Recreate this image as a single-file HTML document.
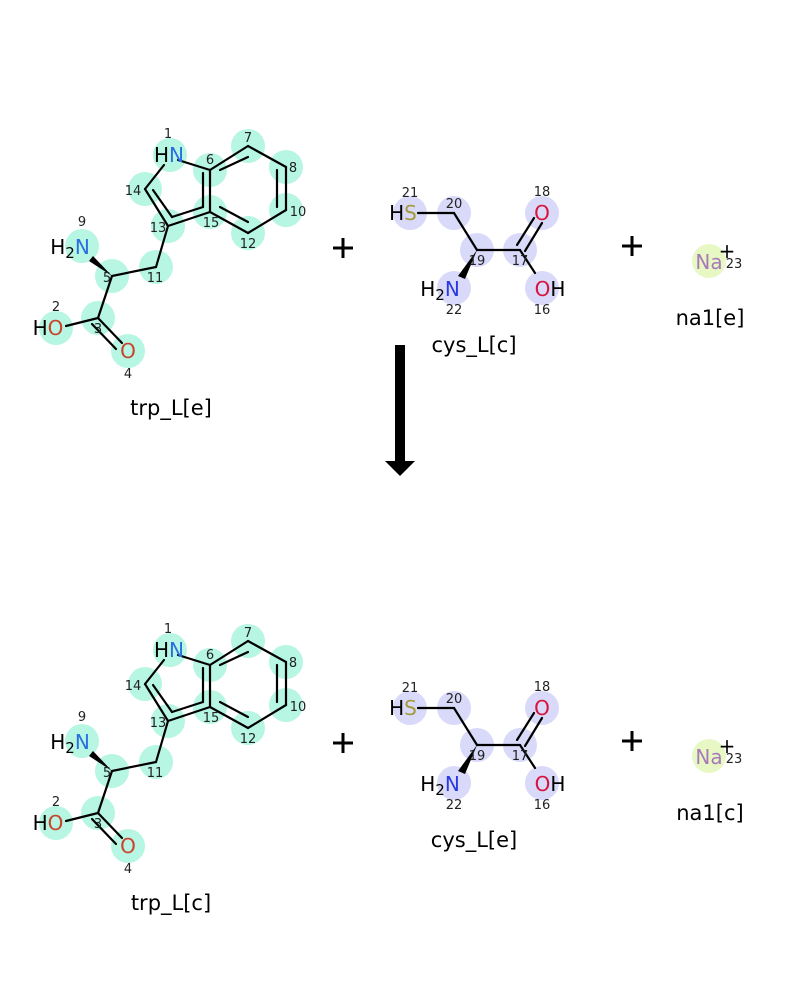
<!DOCTYPE html>
<html><head><meta charset="utf-8"><style>
html,body{margin:0;padding:0;background:#fff;}
svg{display:block;}
text{font-family:"DejaVu Sans","Liberation Sans",sans-serif;}
.a{font-size:20px;text-anchor:middle;}
.i{font-size:13px;fill:#222;text-anchor:middle;}
.l{font-size:21px;fill:#000;text-anchor:middle;}
.b{stroke:#000;stroke-width:2.2;fill:none;stroke-linecap:round;}
</style></head><body>
<svg width="800" height="1000" viewBox="0 0 800 1000" xmlns="http://www.w3.org/2000/svg">
<defs>
<g id="trp">
 <g fill="#b6f6e2">
  <circle cx="170" cy="155" r="17"/><circle cx="210" cy="170" r="17"/><circle cx="248" cy="146" r="17"/>
  <circle cx="286" cy="167" r="17"/><circle cx="286" cy="210" r="17"/><circle cx="248" cy="233" r="17"/>
  <circle cx="210" cy="212" r="17"/><circle cx="168" cy="226" r="17"/><circle cx="145" cy="189" r="17"/>
  <circle cx="156" cy="267" r="17"/><circle cx="112" cy="276" r="17"/><circle cx="82" cy="246" r="17"/>
  <circle cx="98" cy="318" r="17"/><circle cx="56" cy="328" r="17"/><circle cx="128" cy="351" r="17"/>
 </g>
 <g class="b" stroke="#0a2a1e">
  <line x1="178" y1="160" x2="210" y2="170"/>
  <line x1="210" y1="170" x2="248" y2="146"/>
  <line x1="248" y1="146" x2="286" y2="167"/>
  <line x1="286" y1="167" x2="286" y2="210"/>
  <line x1="286" y1="210" x2="248" y2="233"/>
  <line x1="248" y1="233" x2="210" y2="212"/>
  <line x1="210" y1="212" x2="210" y2="170"/>
  <line x1="220" y1="170" x2="248" y2="157"/>
  <line x1="277" y1="170" x2="277" y2="207"/>
  <line x1="220" y1="207" x2="248" y2="222"/>
  <line x1="203" y1="173" x2="203" y2="207"/>
  <line x1="210" y1="212" x2="168" y2="226"/>
  <line x1="168" y1="226" x2="145" y2="189"/>
  <line x1="145" y1="189" x2="164" y2="165"/>
  <line x1="153" y1="190" x2="172" y2="217"/>
  <line x1="172" y1="217" x2="203" y2="207"/>
  <line x1="168" y1="226" x2="156" y2="267"/>
  <line x1="156" y1="267" x2="112" y2="276"/>
  <line x1="112" y1="276" x2="98" y2="318"/>
  <line x1="98" y1="318" x2="66" y2="326"/>
  <line x1="98" y1="318" x2="122" y2="343"/>
  <line x1="92" y1="324" x2="116" y2="349"/>
 </g>
 <polygon points="112,276 93,256 89,261" fill="#000"/>
 <text class="a" x="169" y="162"><tspan fill="#000">H</tspan><tspan fill="#2a6fe0">N</tspan></text>
 <text class="a" x="70" y="254"><tspan fill="#000">H</tspan><tspan fill="#000" font-size="15" dy="4">2</tspan><tspan fill="#2a6fe0" dy="-4">N</tspan></text>
 <text class="a" x="48" y="335"><tspan fill="#000">H</tspan><tspan fill="#c8442c">O</tspan></text>
 <text class="a" x="128" y="358" fill="#c8442c">O</text>
 <text class="i" x="168" y="138">1</text>
 <text class="i" x="210" y="164">6</text>
 <text class="i" x="248" y="142">7</text>
 <text class="i" x="293" y="172">8</text>
 <text class="i" x="298" y="216">10</text>
 <text class="i" x="248" y="248">12</text>
 <text class="i" x="211" y="227">15</text>
 <text class="i" x="158" y="232">13</text>
 <text class="i" x="133" y="195">14</text>
 <text class="i" x="155" y="282">11</text>
 <text class="i" x="107" y="282">5</text>
 <text class="i" x="82" y="226">9</text>
 <text class="i" x="98" y="333">3</text>
 <text class="i" x="56" y="311">2</text>
 <text class="i" x="128" y="378">4</text>
</g>
<g id="cys">
 <g fill="#d9d9f9">
  <circle cx="410" cy="213" r="17"/><circle cx="454" cy="213" r="17"/><circle cx="477" cy="250" r="17"/>
  <circle cx="520" cy="250" r="17"/><circle cx="542" cy="213" r="17"/><circle cx="542" cy="288" r="17"/>
  <circle cx="454" cy="288" r="17"/>
 </g>
 <g class="b">
  <line x1="418" y1="213" x2="454" y2="213"/>
  <line x1="454" y1="213" x2="477" y2="250"/>
  <line x1="477" y1="250" x2="520" y2="250"/>
  <line x1="520" y1="250" x2="535" y2="273"/>
  <line x1="517" y1="245" x2="534" y2="218"/>
  <line x1="525" y1="251" x2="542" y2="223"/>
 </g>
 <polygon points="477,250 458,276 465,279" fill="#000"/>
 <text class="a" x="403" y="220"><tspan fill="#000">H</tspan><tspan fill="#a39a3a">S</tspan></text>
 <text class="a" x="542" y="220" fill="#d8143c">O</text>
 <text class="a" x="550" y="296"><tspan fill="#d8143c">O</tspan><tspan fill="#000">H</tspan></text>
 <text class="a" x="440" y="296"><tspan fill="#000">H</tspan><tspan fill="#000" font-size="15" dy="4">2</tspan><tspan fill="#2a3ae0" dy="-4">N</tspan></text>
 <text class="i" x="410" y="197">21</text>
 <text class="i" x="454" y="208">20</text>
 <text class="i" x="477" y="265">19</text>
 <text class="i" x="520" y="265">17</text>
 <text class="i" x="542" y="196">18</text>
 <text class="i" x="542" y="314">16</text>
 <text class="i" x="454" y="314">22</text>
</g>
<g id="na">
 <circle cx="709" cy="261" r="17" fill="#e8f8c4"/>
 <text class="a" x="709" y="269" fill="#a87ab8">Na</text>
 <text x="727" y="258" font-size="20" fill="#000" text-anchor="middle">+</text>
 <text x="734" y="268" font-size="13" fill="#222" text-anchor="middle">23</text>
</g>
<g id="plus">
 <rect x="333" y="246.5" width="20" height="3"/>
 <rect x="341.5" y="238" width="3" height="20"/>
 <rect x="622" y="244.5" width="20" height="3"/>
 <rect x="630.5" y="236" width="3" height="20"/>
</g>
</defs>
<use href="#trp"/><use href="#cys"/><use href="#na"/><use href="#plus"/>
<g transform="translate(0,495)"><use href="#trp"/><use href="#cys"/><use href="#na"/><use href="#plus"/></g>
<text class="l" x="171" y="415">trp_L[e]</text>
<text class="l" x="474" y="352">cys_L[c]</text>
<text class="l" x="710" y="325">na1[e]</text>
<text class="l" x="171" y="910">trp_L[c]</text>
<text class="l" x="474" y="847">cys_L[e]</text>
<text class="l" x="710" y="820">na1[c]</text>
<rect x="395" y="345" width="10" height="117" fill="#000"/>
<polygon points="385,461 415,461 400,476" fill="#000"/>
</svg>
</body></html>
